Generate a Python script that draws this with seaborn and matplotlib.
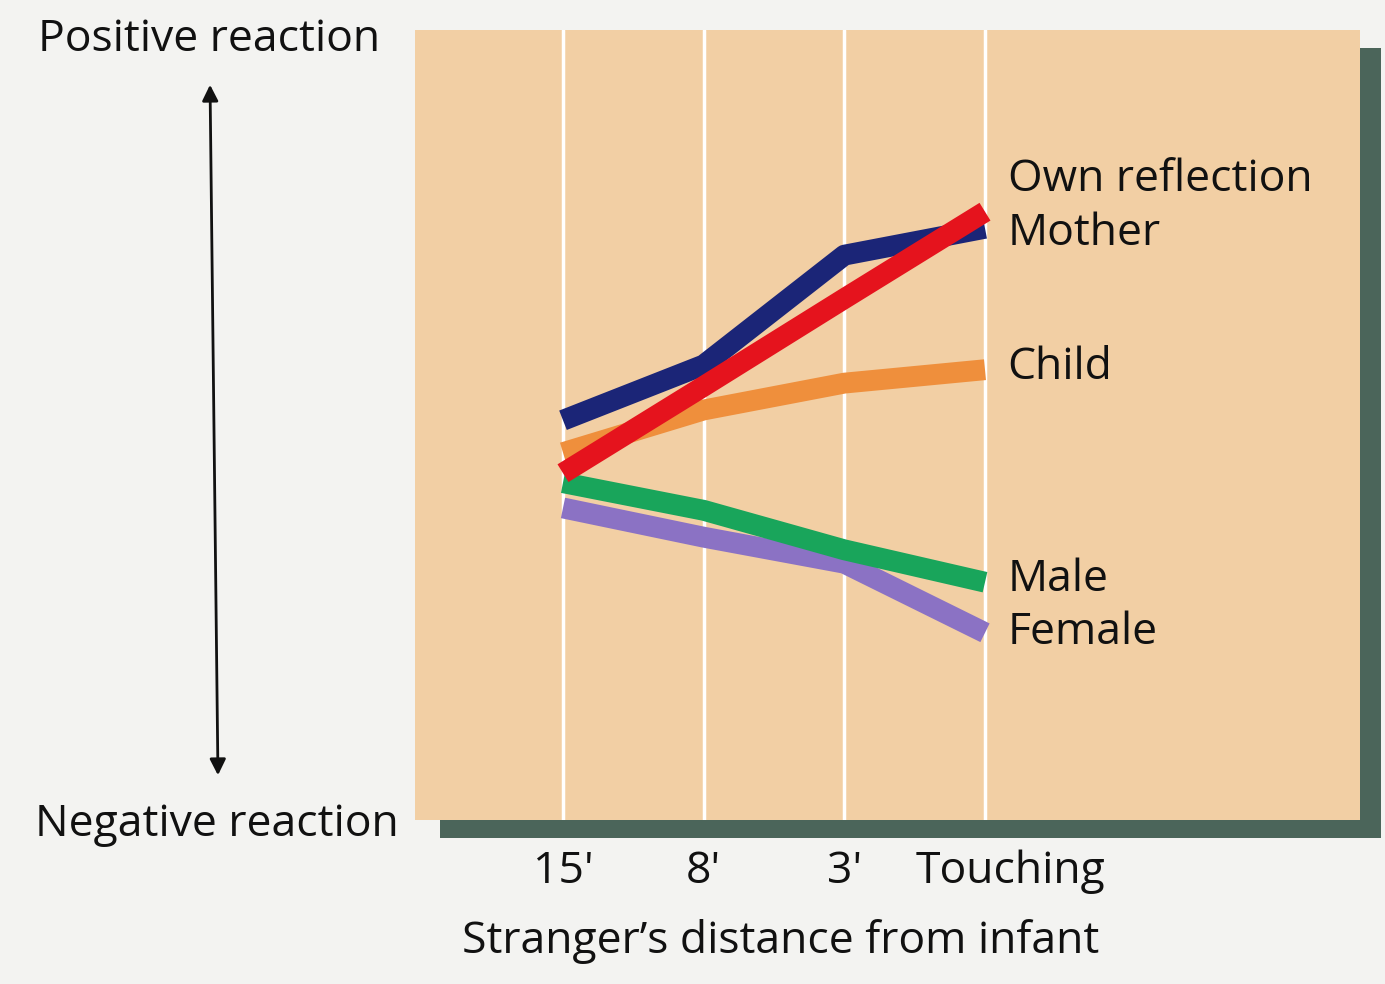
import pandas as pd
import matplotlib
matplotlib.use("Agg")
import matplotlib.pyplot as plt
import matplotlib.transforms as mtransforms
import seaborn as sns
from matplotlib.patches import Rectangle, FancyArrowPatch

# distances on x, reaction score on y (arbitrary units)
distances = ["15'", "8'", "3'", "Touching"]
mother = [5.06, 5.76, 7.15, 7.49]
own_reflection = [4.39, 5.49, 6.60, 7.70]
child = [4.65, 5.19, 5.53, 5.70]
male = [4.27, 3.92, 3.42, 3.01]
female = [3.95, 3.58, 3.25, 2.37]

groups = ["Mother", "Own reflection", "Child", "Male", "Female"]
draw_order = ["Female", "Child", "Mother", "Male", "Own reflection"]
colors = {"Mother": "#1b2577", "Own reflection": "#e5131d", "Child": "#ef8f3c",
          "Male": "#19a55b", "Female": "#8b72c4"}

rows = []
for g, vals in zip(groups, [mother, own_reflection, child, male, female]):
    for i, v in enumerate(vals):
        rows.append({"pos": i, "distance": distances[i], "reaction": v, "group": g})
df = pd.DataFrame(rows)

sns.set_style("white")
plt.rcParams['font.family'] = ['Open Sans', 'DejaVu Sans']

W, H = 1385, 984
FS = 32
fig = plt.figure(figsize=(13.85, 9.84), dpi=100)
fig.patch.set_facecolor("#f3f3f1")

# panel box in pixels
x0, x1, ytop, ybot = 415, 1360, 30, 820
ax = fig.add_axes([x0 / W, 1 - ybot / H, (x1 - x0) / W, (ybot - ytop) / H])
ax.set_facecolor("#f2cfa4")
ax.set_zorder(2)

# dark shadow behind the panel
shadow = Rectangle(((x0 + 25) / W, 1 - (ybot + 18) / H), (x1 - x0 - 4) / W, (ybot - ytop) / H,
                   transform=fig.transFigure, facecolor="#4b655a", edgecolor="none", zorder=-1)
fig.patches.append(shadow)

step = (985 - 563) / 3.0
ax.set_xlim((x0 - 563) / step, (x1 - 563) / step)
ax.set_ylim(0, 10)

for i in range(4):
    ax.axvline(i, color="white", lw=2.5, zorder=1)

sns.lineplot(data=df, x="pos", y="reaction", hue="group", hue_order=draw_order,
             palette=colors, linewidth=15, legend=False, ax=ax, zorder=3,
             solid_capstyle="butt")

# direct labels at the right end
label_y = {"Own reflection": 8.1, "Mother": 7.42, "Child": 5.73, "Male": 3.04, "Female": 2.37}
for g, yv in label_y.items():
    ax.text(3.16, yv, g, fontsize=FS, va="center", ha="left", color="#111111")

for s in ax.spines.values():
    s.set_visible(False)
ax.set_yticks([])
ax.set_xticks(range(4))
ax.set_xticklabels(distances, fontsize=FS, color="#111111")
ax.tick_params(axis="x", length=0, pad=21)
# "Touching" sits a little right of its line
lab = ax.get_xticklabels()[-1]
lab.set_transform(lab.get_transform() + mtransforms.ScaledTranslation(25 / 100, 0, fig.dpi_scale_trans))
ax.set_xlabel("Stranger\u2019s distance from infant", fontsize=FS, color="#111111")
ax.xaxis.set_label_coords((781 - x0) / (x1 - x0), -(942 - ybot) / (ybot - ytop))
ax.xaxis.label.set_va("center")
ax.set_ylabel("")

fig.text(38 / W, 1 - 40 / H, "Positive reaction", fontsize=FS, va="center", ha="left", color="#111111")
fig.text(35 / W, 1 - 825 / H, "Negative reaction", fontsize=FS, va="center", ha="left", color="#111111")
fig.patches.append(FancyArrowPatch(
    (210 / W, 1 - 82 / H), (218 / W, 1 - 778 / H), transform=fig.transFigure,
    arrowstyle="<|-|>", mutation_scale=24, lw=2, color="#111111"))

fig.savefig("out.png", dpi=100, facecolor=fig.get_facecolor())
